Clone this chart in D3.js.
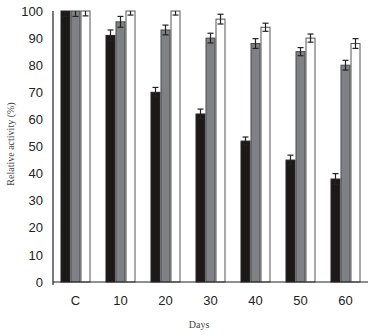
<!DOCTYPE html>
<html><head><meta charset="utf-8">
<script src="https://cdn.jsdelivr.net/npm/d3@7"></script>
<style>body{margin:0;background:#fff}svg{display:block}</style>
</head><body>
<script>
const categories = ["C","10","20","30","40","50","60"];
const seriesNames = ["s1","s2","s3"];
const values1 = [100,91,70,62,52,45,38];
const values2 = [100,96,93,90,88,85,80];
const values3 = [100,100,100,97,94,90,88];
const errors1 = [2,2,1.8,1.8,1.5,1.8,2];
const errors2 = [2,2,1.8,1.8,1.8,1.5,1.8];
const errors3 = [1.8,1.5,1.5,1.8,1.5,1.5,1.8];
const yTicks = [0,10,20,30,40,50,60,70,80,90,100];

const W=373,H=335;
const m={l:53,r:5,t:11,b:53};
const svg=d3.select("body").append("svg").attr("width",W).attr("height",H);
const x=d3.scaleBand().domain(categories).range([m.l,368]).paddingInner(0.333).paddingOuter(0.1665);
const xs=d3.scaleBand().domain(seriesNames).range([0,x.bandwidth()]);
const y=d3.scaleLinear().domain([0,100]).range([282,11]);

svg.append("defs").append("clipPath").attr("id","plot")
  .append("rect").attr("x",m.l).attr("y",y(100)).attr("width",368-m.l).attr("height",y(0)-y(100));

const fills=["#1d1919","#808184","#ffffff"];
const strokes=["#2a2626","#4a4a4d","#555555"];
const vals=[values1,values2,values3];
const errs=[errors1,errors2,errors3];

seriesNames.forEach((s,si)=>{
  const g=svg.append("g");
  g.selectAll("rect").data(categories).join("rect")
    .attr("x",c=>x(c)+xs(s)+0.5)
    .attr("y",(c,i)=>y(vals[si][i]))
    .attr("width",xs.bandwidth()-1)
    .attr("height",(c,i)=>y(0)-y(vals[si][i]))
    .attr("fill",fills[si]).attr("stroke",strokes[si]).attr("stroke-width",1);
  const eg=svg.append("g").attr("stroke","#222").attr("stroke-width",1.2).attr("clip-path","url(#plot)");
  categories.forEach((c,i)=>{
    const cx=x(c)+xs(s)+xs.bandwidth()/2;
    const v=vals[si][i], e=errs[si][i];
    eg.append("line").attr("x1",cx).attr("x2",cx).attr("y1",y(v+e)).attr("y2",y(v-e));
    eg.append("line").attr("x1",cx-3).attr("x2",cx+3).attr("y1",y(v+e)).attr("y2",y(v+e));
    eg.append("line").attr("x1",cx-3).attr("x2",cx+3).attr("y1",y(v-e)).attr("y2",y(v-e));
  });
});

// axes
svg.append("line").attr("x1",m.l).attr("x2",m.l).attr("y1",y(100)).attr("y2",y(0)+3).attr("stroke","#222").attr("stroke-width",1.2);
svg.append("line").attr("x1",m.l).attr("x2",368).attr("y1",y(0)).attr("y2",y(0)).attr("stroke","#222").attr("stroke-width",1.2);

const yAxis=d3.axisLeft(y).tickValues(yTicks).tickSize(0).tickPadding(10);
const ya=svg.append("g").attr("transform",`translate(${m.l},0)`).call(yAxis);
ya.select(".domain").remove();
ya.selectAll("text").attr("font-family","Liberation Sans, Arial, sans-serif").attr("font-size",13).attr("fill","#222");

const xAxis=d3.axisBottom(x).tickSize(0).tickPadding(14);
const xa=svg.append("g").attr("transform",`translate(0,${y(0)})`).call(xAxis);
xa.select(".domain").remove();
xa.selectAll("text").attr("font-family","Liberation Sans, Arial, sans-serif").attr("font-size",13).attr("fill","#222");

svg.append("text").attr("transform","translate(14,144) rotate(-90)").attr("text-anchor","middle")
  .attr("font-family","Liberation Serif, Times New Roman, serif").attr("font-size",10).attr("fill","#444")
  .text("Relative activity (%)");
svg.append("text").attr("x",199).attr("y",328).attr("text-anchor","middle")
  .attr("font-family","Liberation Serif, Times New Roman, serif").attr("font-size",10).attr("fill","#444")
  .text("Days");
</script>
</body></html>
